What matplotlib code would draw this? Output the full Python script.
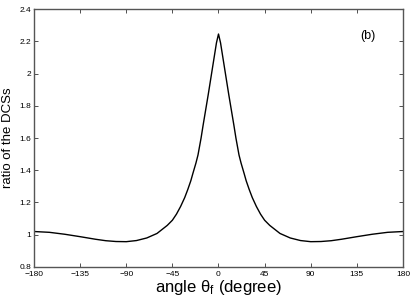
import matplotlib

matplotlib.use("Agg")
import matplotlib.pyplot as plt

plt.rcParams["font.family"] = ["Liberation Sans", "DejaVu Sans"]

# ratio of DCSs vs angle theta_f
angle = [-180, -165, -150, -135, -120, -110, -100, -90, -80, -70, -60, -50,
         -45, -41, -37, -33, -30, -27, -25, -22, -20, -17, -15, -10, -5, -2, 0,
         2, 5, 10, 15, 17, 20, 22, 25, 27, 30, 33, 37, 41, 45,
         50, 60, 70, 80, 90, 100, 110, 120, 135, 150, 165, 180]
ratio = [1.020, 1.015, 1.003, 0.988, 0.972, 0.963, 0.958, 0.957, 0.964, 0.980, 1.008, 1.058,
         1.090, 1.128, 1.175, 1.230, 1.280, 1.335, 1.380, 1.445, 1.495, 1.600, 1.680, 1.870,
         2.070, 2.190, 2.245,
         2.190, 2.070, 1.870, 1.680, 1.600, 1.495, 1.445, 1.380, 1.335, 1.280, 1.230, 1.175,
         1.128, 1.090,
         1.058, 1.008, 0.980, 0.964, 0.957, 0.958, 0.963, 0.972, 0.988, 1.003, 1.015, 1.020]

xticks = [-180, -135, -90, -45, 0, 45, 90, 135, 180]
yticks = [0.8, 1, 1.2, 1.4, 1.6, 1.8, 2, 2.2, 2.4]

fig = plt.figure(figsize=(4.15, 3.01), dpi=100)
ax = fig.add_axes([0.082, 0.113, 0.889, 0.857])
ax.plot(angle, ratio, color="black", lw=1.0)

ax.set_xlim(-180, 180)
ax.set_ylim(0.8, 2.4)
ax.set_xticks(xticks)
ax.set_xticklabels([str(v).replace("-", "\u2212") for v in xticks])
ax.set_yticks(yticks)
ax.set_yticklabels(["0.8", "1", "1.2", "1.4", "1.6", "1.8", "2", "2.2", "2.4"])
ax.tick_params(direction="in", length=3, width=0.6, labelsize=6,
               top=True, right=True, pad=2, colors="#333333", labelcolor="black")
ax.tick_params(axis="x", pad=3)
for s in ax.spines.values():
    s.set_color("#555555")
    s.set_linewidth(1.0)

ax.set_xlabel(r"angle $\mathregular{\theta_f}$ (degree)", fontsize=12, labelpad=0)
ax.set_ylabel("ratio of the DCSs", fontsize=9.5, labelpad=4)
ax.text(0.905, 0.895, "(b)", transform=ax.transAxes, fontsize=9,
        ha="center", va="center")

fig.savefig("out.png", dpi=100)
